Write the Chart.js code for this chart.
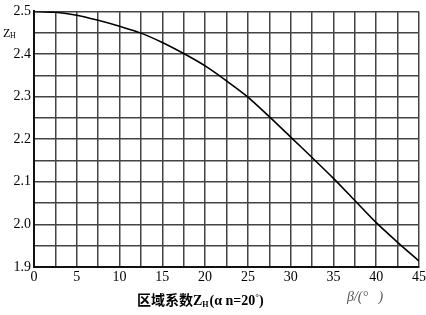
<!DOCTYPE html>
<html>
<head>
<meta charset="utf-8">
<script src="https://cdn.jsdelivr.net/npm/chart.js@4"></script>
<style>
  html, body { margin: 0; padding: 0; background: #ffffff; }
  #wrap { position: relative; width: 426px; height: 315px; }
</style>
</head>
<body>
<div id="wrap"><canvas id="chart" width="426" height="315"></canvas></div>
<script>
// helix angle beta (deg) and zone factor
const betaValues = [0, 2.5, 5, 7.5, 10, 12.5, 15, 17.5, 20, 22.5, 25, 27.5, 30, 32.5, 35, 37.5, 40, 42.5, 45];
const zoneFactor = [2.5, 2.498, 2.491, 2.479, 2.465, 2.449, 2.427, 2.401, 2.372, 2.337, 2.299, 2.253, 2.205, 2.157, 2.108, 2.056, 2.004, 1.958, 1.914];

const xTickLabels = ['0', '5', '10', '15', '20', '25', '30', '35', '40', '45'];
const yTickLabels = ['1.9', '2.0', '2.1', '2.2', '2.3', '2.4', '2.5'];

const points = betaValues.map((b, i) => ({ x: b, y: zoneFactor[i] }));

const serif = '"Liberation Serif", "DejaVu Serif", serif';

// caption texts drawn under the chart
const captionPlugin = {
    id: 'caption',
    afterDraw(chart) {
        const ctx = chart.ctx;
        ctx.save();
        ctx.fillStyle = '#000';
        ctx.textBaseline = 'alphabetic';

        // Z_H label at top left
        ctx.font = '12px ' + serif;
        ctx.fillText('Z', 3, 37);
        ctx.font = '8px ' + serif;
        ctx.fillText('H', 10, 38);

        // main caption
        let x = 137;
        const y = 305;
        ctx.font = 'bold 14px "Noto Sans CJK SC", sans-serif';
        ctx.fillText('区域系数', x, y);
        x += ctx.measureText('区域系数').width;
        ctx.font = 'bold 14px ' + serif;
        ctx.fillText('Z', x, y);
        x += ctx.measureText('Z').width;
        ctx.font = 'bold 8px ' + serif;
        ctx.fillText('H', x, y + 2);
        x += ctx.measureText('H').width + 1;
        ctx.font = 'bold 14px ' + serif;
        ctx.fillText('(α n=20', x, y);
        x += ctx.measureText('(α n=20').width;
        ctx.font = 'bold 9px ' + serif;
        ctx.fillText('°', x, y - 5);
        x += ctx.measureText('°').width;
        ctx.font = 'bold 14px ' + serif;
        ctx.fillText(')', x, y);

        // beta axis label
        ctx.fillStyle = '#555';
        ctx.font = 'italic 14px ' + serif;
        ctx.fillText('β/(°   )', 347, 301);
        ctx.restore();
    }
};

const ctx = document.getElementById('chart').getContext('2d');

new Chart(ctx, {
    type: 'line',
    data: {
        datasets: [{
            data: points,
            borderColor: '#000000',
            borderWidth: 1.6,
            pointRadius: 0,
            tension: 0.3,
            fill: false,
        }],
    },
    options: {
        responsive: false,
        animation: false,
        layout: { padding: { top: 10, right: 0, left: 0, bottom: 0 } },
        plugins: {
            legend: { display: false },
            tooltip: { enabled: false },
        },
        scales: {
            x: {
                type: 'linear',
                min: 0,
                max: 45,
                afterFit: (scale) => { scale.height = 48; scale.paddingRight = 7; },
                ticks: {
                    stepSize: 2.5,
                    autoSkip: false,
                    maxRotation: 0,
                    padding: 2,
                    color: '#000',
                    font: { family: serif, size: 14 },
                    callback: (v) => {
                        const s = String(Math.round(v));
                        return (Math.abs(v % 5) < 0.001 && xTickLabels.includes(s)) ? s : '';
                    },
                },
                grid: { color: '#444', lineWidth: 1.5, drawTicks: false },
                border: { color: '#111', width: 2 },
            },
            y: {
                min: 1.9,
                max: 2.5,
                afterFit: (scale) => { scale.width = 34; },
                ticks: {
                    stepSize: 0.05,
                    autoSkip: false,
                    padding: 3,
                    color: '#000',
                    font: { family: serif, size: 14 },
                    callback: (v) => {
                        const r = Math.round(v * 100);
                        const s = (r / 100).toFixed(1);
                        return (r % 10 === 0 && yTickLabels.includes(s)) ? s : '';
                    },
                },
                grid: { color: '#444', lineWidth: 1.5, drawTicks: false },
                border: { color: '#111', width: 2 },
            },
        },
    },
    plugins: [captionPlugin],
});
</script>
</body>
</html>
